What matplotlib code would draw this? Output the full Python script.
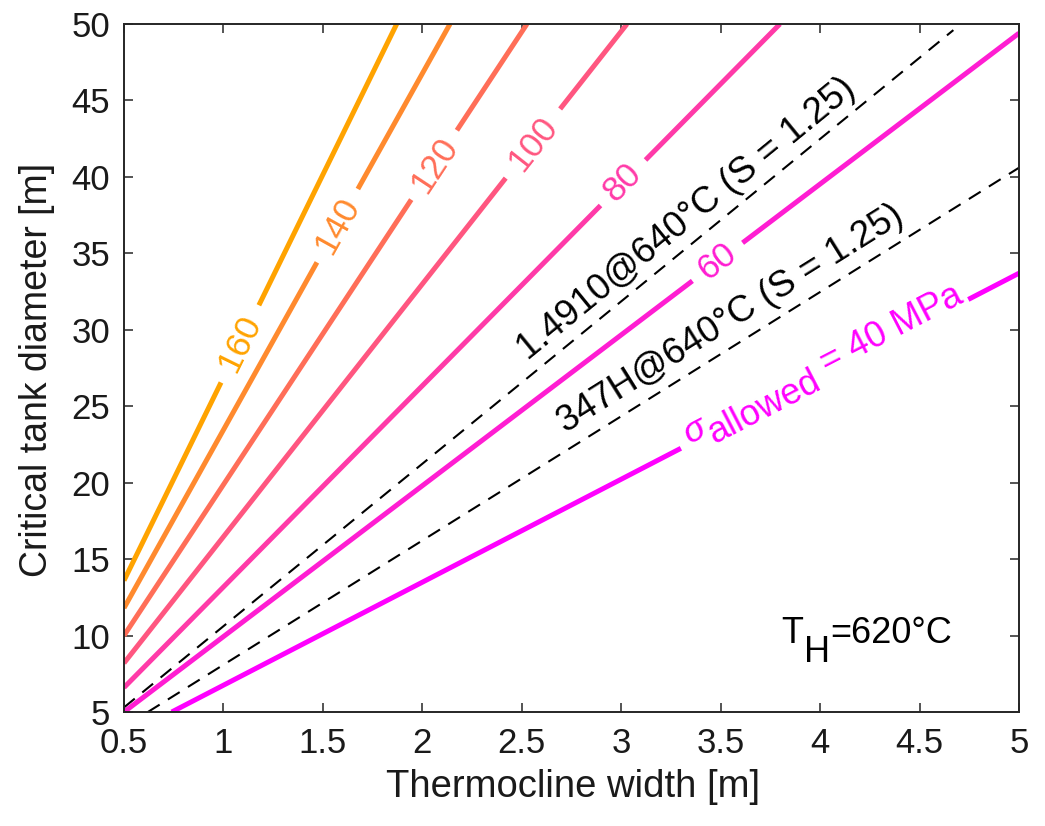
import numpy as np
import matplotlib
matplotlib.use('Agg')
import matplotlib.pyplot as plt
import matplotlib.transforms as mtransforms

plt.rcParams['font.family'] = ['Liberation Sans', 'DejaVu Sans']
plt.rcParams['lines.scale_dashes'] = False

# ---------------- data ----------------
stress_levels = [160, 140, 120, 100, 80, 60, 40]                 # allowed stress [MPa]
stress_width = [[0.5, 1.871], [0.5, 2.139], [0.5, 2.526], [0.5, 3.029],
                [0.5, 3.798], [0.5, 5.0], [0.74, 5.0]]           # thermocline width [m]
stress_diam = [[13.6, 50.0], [11.8, 50.0], [10.0, 50.0], [8.2, 50.0],
               [6.6, 50.0], [5.0, 49.4], [5.0, 33.7]]            # critical diameter [m]
stress_colors = ['#FFA300', '#FF8A2E', '#FF6E58', '#FF5680', '#FF3AA8', '#FF1DD2', '#FF00FF']

material_names = ['1.4910@640°C (S = 1.25)', '347H@640°C (S = 1.25)']
material_width = [[0.5, 4.67], [0.62, 5.0]]
material_diam = [[5.3, 49.6], [5.0, 40.6]]

x_ticks = [0.5, 1, 1.5, 2, 2.5, 3, 3.5, 4, 4.5, 5]
x_tick_labels = ['0.5', '1', '1.5', '2', '2.5', '3', '3.5', '4', '4.5', '5']
y_ticks = [5, 10, 15, 20, 25, 30, 35, 40, 45, 50]
y_tick_labels = ['5', '10', '15', '20', '25', '30', '35', '40', '45', '50']

# ---------------- layout ----------------
W, H, DPI = 1045, 826, 100
fig = plt.figure(figsize=(W / DPI, H / DPI), dpi=DPI)
ax = fig.add_axes([124 / W, 1 - 712 / H, (1019 - 124) / W, (712 - 24) / H])
ax.set_xlim(0.5, 5)
ax.set_ylim(5, 50)

axis_col = '#262626'
for s in ax.spines.values():
    s.set_color(axis_col)
    s.set_linewidth(1.4)
ax.set_xticks(x_ticks)
ax.set_xticklabels(x_tick_labels)
ax.set_yticks(y_ticks)
ax.set_yticklabels(y_tick_labels)
ax.tick_params(direction='in', length=6.5, width=1.1, colors=axis_col,
               labelsize=25, top=True, right=True)
ax.tick_params(axis='x', pad=11)
ax.tick_params(axis='y', pad=10)
for lab in ax.get_xticklabels() + ax.get_yticklabels():
    lab.set_color('#1a1a1a')

fig.text(573 / W, 1 - 787 / H, 'Thermocline width [m]', fontsize=27.5,
         ha='center', va='center', color='#1a1a1a')
fig.text(37 / W, 1 - 370 / H, 'Critical tank diameter [m]', fontsize=27,
         rotation=90, ha='center', va='center', color='#1a1a1a')

renderer = fig.canvas.get_renderer()


def disp_angle(xs, ys):
    p0 = ax.transData.transform((xs[0], ys[0]))
    p1 = ax.transData.transform((xs[1], ys[1]))
    d = p1 - p0
    return np.degrees(np.arctan2(d[1], d[0])), np.hypot(d[0], d[1])


def draw_broken(xs, ys, xc, gap_px, **kw):
    ang, L = disp_angle(xs, ys)
    tc = (xc - xs[0]) / (xs[1] - xs[0])
    th = gap_px / 2.0 / L
    for a, b in [(0.0, tc - th), (tc + th, 1.0)]:
        ax.plot([xs[0] + a * (xs[1] - xs[0]), xs[0] + b * (xs[1] - xs[0])],
                [ys[0] + a * (ys[1] - ys[0]), ys[0] + b * (ys[1] - ys[0])], **kw)
    return ang


def text_width(s, **kw):
    t = ax.text(0, 0, s, **kw)
    w = t.get_window_extent(renderer).width
    t.remove()
    return w


def chain_text(x, y, ang, pieces, fontsize, color):
    c, s = np.cos(np.radians(ang)), np.sin(np.radians(ang))
    adv = 0.0
    for txt, perp, style in pieces:
        dx = adv * c - perp * s
        dy = adv * s + perp * c
        tr = mtransforms.offset_copy(ax.transData, fig=fig, x=dx, y=dy, units='dots')
        ax.text(x, y, txt, transform=tr, fontsize=fontsize, color=color,
                fontstyle=style, rotation=ang, rotation_mode='anchor',
                ha='left', va='baseline')
        adv += text_width(txt, fontsize=fontsize, fontstyle=style)


# dashed material lines + labels
material_label_pos = [(3.329, 37.27), (3.551, 30.73)]
for xs, ys, name, (lx, ly) in zip(material_width, material_diam, material_names,
                                  material_label_pos):
    ax.plot(xs, ys, color='black', lw=1.5, dashes=(10, 7))
    ang, _ = disp_angle(xs, ys)
    ax.text(lx, ly, name, fontsize=26.5, color='black', rotation=ang,
            rotation_mode='anchor', ha='center', va='center')

# stress lines with inline labels
label_x = [1.083, 1.573, 2.059, 2.556, 3.009, 3.484]
gap_len = [86, 84, 83, 88, 64, 63]
for i, lev in enumerate(stress_levels):
    xs, ys, col = stress_width[i], stress_diam[i], stress_colors[i]
    kw = dict(color=col, lw=3.6, solid_capstyle='butt')
    if i < len(label_x):
        ang = draw_broken(xs, ys, label_x[i], gap_len[i], **kw)
        ly = ys[0] + (label_x[i] - xs[0]) / (xs[1] - xs[0]) * (ys[1] - ys[0])
        ax.text(label_x[i], ly, str(lev), fontsize=25.5, color=col, rotation=ang,
                rotation_mode='anchor', ha='center', va='center')
    else:
        # sigma_allowed = 40 MPa label
        g0, g1 = 3.30, 4.745
        xc = 0.5 * (g0 + g1)
        _, L = disp_angle(xs, ys)
        gap_px = (g1 - g0) / (xs[1] - xs[0]) * L
        ang = draw_broken(xs, ys, xc, gap_px, **kw)
        sx = 3.345
        sy = ys[0] + (sx - xs[0]) / (xs[1] - xs[0]) * (ys[1] - ys[0])
        chain_text(sx, sy, ang,
                   [('σ', 0, 'italic'), ('allowed', -12, 'normal'),
                    (' = 40 MPa', 0, 'normal')], 26, col)

# T_H annotation
chain_text(3.807, 9.51, 0.0,
           [('T', 0, 'normal'), ('H', -19, 'normal'), ('=620°C', 0, 'normal')],
           26, 'black')

fig.savefig('out.png', dpi=DPI)
